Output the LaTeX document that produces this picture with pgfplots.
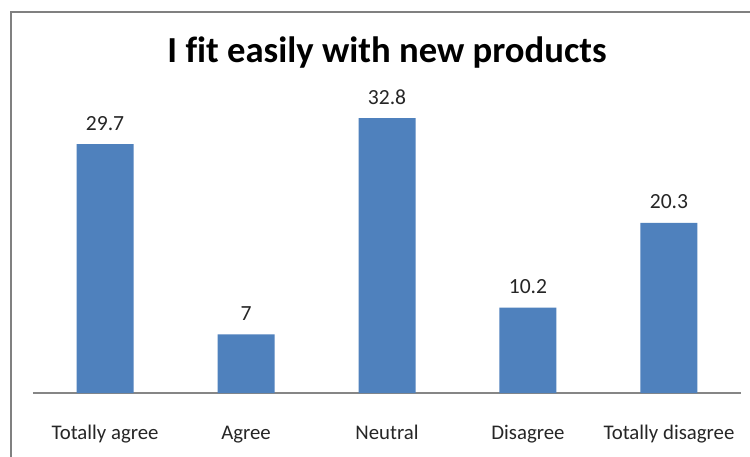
\documentclass[border=0pt]{standalone}
\usepackage{pgfplots}
\pgfplotsset{compat=1.18}
\usepackage{fontspec}
\setmainfont[Ligatures=NoCommon]{Carlito}
\definecolor{barblue}{HTML}{4F81BD}
\definecolor{axisgray}{HTML}{868686}
\definecolor{framegray}{HTML}{808080}
\begin{document}
\begin{tikzpicture}
\useasboundingbox (0,0) rectangle (562.5pt,-342.75pt);
\clip (0,0) rectangle (562.5pt,-342.75pt);
\fill[white] (0,0) rectangle (562.5pt,-342.75pt);
\draw[framegray, line width=1.1pt] (8.25pt,-400pt) -- (8.25pt,-9pt) -- (600pt,-9pt);
\node[anchor=base, font=\fontsize{27.5}{30}\selectfont\bfseries] at (290.25pt,-46.5pt) {I fit easily with new products};
\begin{axis}[
  at={(24.75pt,-294.75pt)}, anchor=south west,
  scale only axis, width=531pt, height=251.4pt,
  xmin=-0.511, xmax=4.511, ymin=0, ymax=40,
  axis x line*=bottom, axis y line=none,
  x axis line style={axisgray, line width=0.8pt, -},
  xtick=data, xtick style={draw=none},
  xticklabels={Totally agree, Agree, Neutral, Disagree, Totally disagree},
  xticklabel style={anchor=base, inner sep=0pt, yshift=-30.75pt, font=\fontsize{15.6}{17}\selectfont, text=black!85},
  ybar, bar width=42.75pt,
  nodes near coords,
  every node near coord/.append style={anchor=base, inner sep=0pt, yshift=10.5pt, font=\fontsize{16.2}{18}\selectfont, text=black!85},
  point meta=explicit symbolic,
  clip=false,
]
\addplot[fill=barblue, draw=none] table[meta=label] {
x y label
0 29.7 29.7
1 7 7
2 32.8 32.8
3 10.2 10.2
4 20.3 20.3
};
\end{axis}
\end{tikzpicture}
\end{document}
